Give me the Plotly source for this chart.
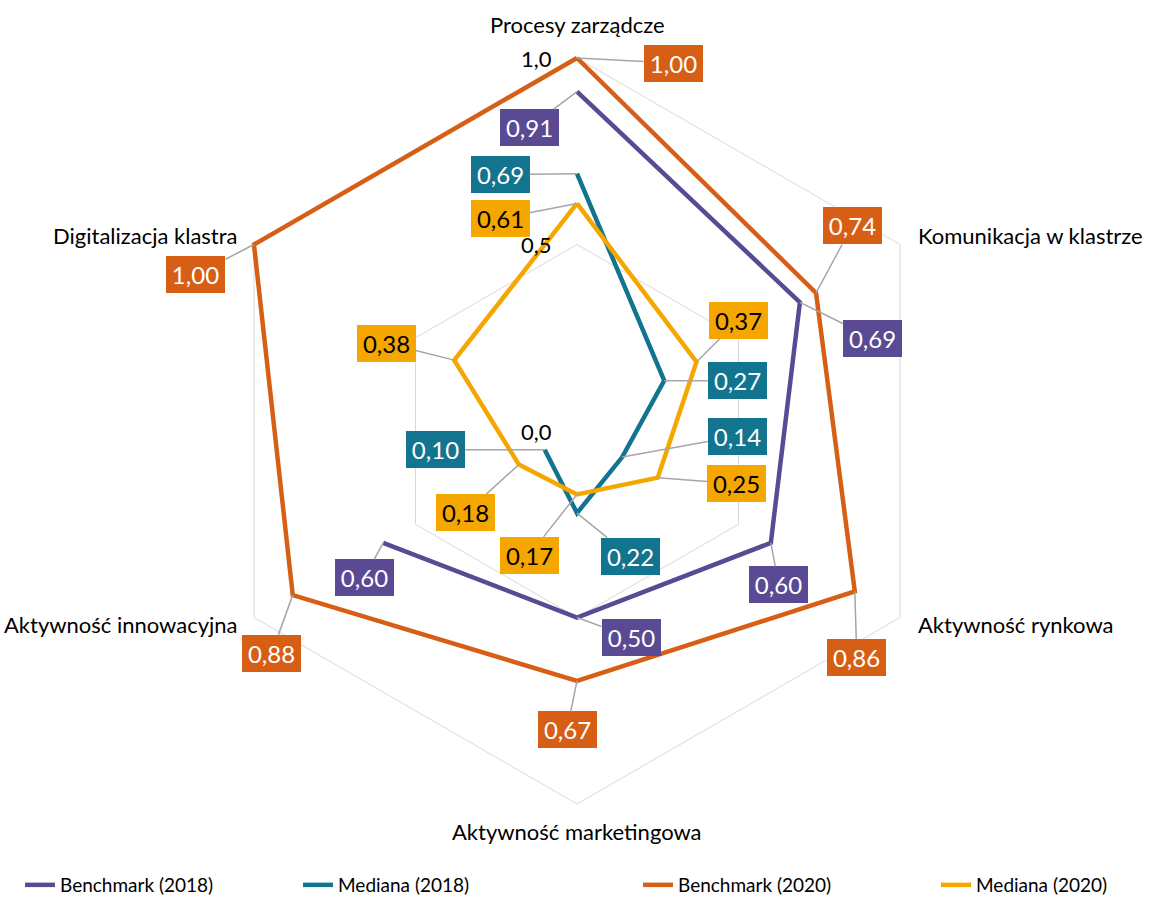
import math
import plotly.graph_objects as go

# Axis categories (clockwise from the top)
categories = [
    "Procesy zarządcze",
    "Komunikacja w klastrze",
    "Aktywność rynkowa",
    "Aktywność marketingowa",
    "Aktywność innowacyjna",
    "Digitalizacja klastra",
]

# Series values (None = no value for that axis)
benchmark_2018 = [0.91, 0.69, 0.60, 0.50, 0.60, None]
mediana_2018 = [0.69, 0.27, 0.14, 0.22, 0.10, None]
benchmark_2020 = [1.00, 0.74, 0.86, 0.67, 0.88, 1.00]
mediana_2020 = [0.61, 0.37, 0.25, 0.17, 0.18, 0.38]

series_names = ["Benchmark (2018)", "Mediana (2018)", "Benchmark (2020)", "Mediana (2020)"]
series_values = [benchmark_2018, mediana_2018, benchmark_2020, mediana_2020]

# Radial ticks
radial_tickvals = [0.0, 0.5, 1.0]
radial_ticktext = ["0,0", "0,5", "1,0"]

# Styling
colors = ["#5A4A94", "#13748F", "#D65F15", "#F5A700"]
label_text_colors = ["white", "white", "white", "black"]
FONT = "Lato"
W, H = 1161, 897

# Value-label offsets (pixels, box centre relative to the point)
label_offsets = [
    [(-48, 36), (73, 36), (8, 42), (54, 20), (-19, 35), None],
    [(-77, 1), (73, 0), (115, -21), (53, 43), (-109, 0), None],
    [(96, 5), (36, -67), (2, 66), (-10, 49), (-21, 58), (-58, 30)],
    [(-77, 15), (42, -42), (79, 6), (-48, 61), (-53, 48), (-68, -17)],
]

# Legend positions (pixels from left)
legend_x_px = [20, 298, 638, 936]

# Plot geometry: centre of the radar and pixel length of r = 1
CX, CY, R = 577, 431, 373
# Radial range extends a little past 1 so lines lying on the outer ring are not clipped
R_MAX = 1.02
R_DOM = R * R_MAX
dom_x = [(CX - R_DOM) / W, (CX + R_DOM) / W]
dom_y = [(H - CY - R_DOM) / H, (H - CY + R_DOM) / H]

fig = go.Figure()

for i, (name, vals) in enumerate(zip(series_names, series_values)):
    r = []
    th = []
    for c, v in zip(categories, vals):
        if v is not None:
            r.append(v)
            th.append(c)
    closed = all(v is not None for v in vals)
    if closed:
        r.append(r[0])
        th.append(th[0])
    fig.add_trace(go.Scatterpolar(
        r=r, theta=th, name=name, mode="lines",
        line=dict(color=colors[i], width=4.5),
        cliponaxis=False,
        legend="legend" if i == 0 else f"legend{i + 1}",
    ))

# Full-page cartesian overlay with the same pixel scale as the radar,
# used for placing texts
fig.update_layout(
    xaxis=dict(domain=[0, 1], range=[-CX / R, (W - CX) / R], visible=False, fixedrange=True),
    yaxis=dict(domain=[0, 1], range=[-(H - CY) / R, CY / R], visible=False, fixedrange=True),
)
fig.add_trace(go.Scatter(x=[None], y=[None], showlegend=False, hoverinfo="skip"))


def to_xy(idx, v):
    ang = math.radians(90 - 60 * idx)
    return v * math.cos(ang), v * math.sin(ang)


annotations = []

# Value labels with leader lines
for s, vals in enumerate(series_values):
    for k, v in enumerate(vals):
        if v is None:
            continue
        x, y = to_xy(k, v)
        ax, ay = label_offsets[s][k]
        annotations.append(dict(
            x=x, y=y, xref="x", yref="y",
            ax=ax, ay=ay, axref="pixel", ayref="pixel",
            text=f"{v:.2f}".replace(".", ","),
            showarrow=True, arrowhead=0, arrowwidth=1.5, arrowcolor="#A6A6A6",
            standoff=0, startstandoff=0,
            bgcolor=colors[s], width=59, height=37, borderpad=0, borderwidth=0,
            font=dict(family=FONT, size=24, color=label_text_colors[s]),
        ))

# Category labels around the radar
cat_label_pos = [
    (0.0, 1.091, "center"),
    (0.909, 0.523, "left"),
    (0.909, -0.520, "left"),
    (0.0, -1.075, "center"),
    (-0.903, -0.520, "right"),
    (-0.903, 0.523, "right"),
]
for c, (x, y, anc) in zip(categories, cat_label_pos):
    annotations.append(dict(
        x=x, y=y, xref="x", yref="y", text=c, showarrow=False,
        xanchor=anc, yanchor="middle",
        font=dict(family=FONT, size=22, color="black"),
    ))

# Radial tick labels along the top spoke
for v, t in zip(radial_tickvals, radial_ticktext):
    annotations.append(dict(
        x=-23 / R, y=v, xref="x", yref="y", text=t, showarrow=False,
        xanchor="right", yanchor="middle",
        font=dict(family=FONT, size=22, color="black"),
    ))

legend_common = dict(
    orientation="h", yanchor="middle", y=1 - 885 / H, xanchor="left",
    font=dict(family=FONT, size=19, color="black"), bgcolor="rgba(0,0,0,0)",
    borderwidth=0,
)
legends = {}
for i, xp in enumerate(legend_x_px):
    key = "legend" if i == 0 else f"legend{i + 1}"
    legends[key] = dict(legend_common, x=xp / W)

fig.update_layout(
    width=W, height=H,
    margin=dict(l=0, r=0, t=0, b=0, autoexpand=False),
    paper_bgcolor="white", plot_bgcolor="white",
    font=dict(family=FONT),
    polar=dict(
        domain=dict(x=dom_x, y=dom_y),
        gridshape="linear",
        bgcolor="white",
        radialaxis=dict(
            range=[0, R_MAX], tickvals=radial_tickvals, ticktext=radial_ticktext,
            showticklabels=False, ticks="", showline=False,
            gridcolor="#D9D9D9", gridwidth=1, angle=90,
        ),
        angularaxis=dict(
            categoryarray=categories, categoryorder="array", type="category",
            rotation=90, direction="clockwise",
            showticklabels=False, ticks="", showgrid=False,
            showline=False,
        ),
    ),
    annotations=annotations,
    showlegend=True,
    **legends,
)

fig.write_html("out.html")
